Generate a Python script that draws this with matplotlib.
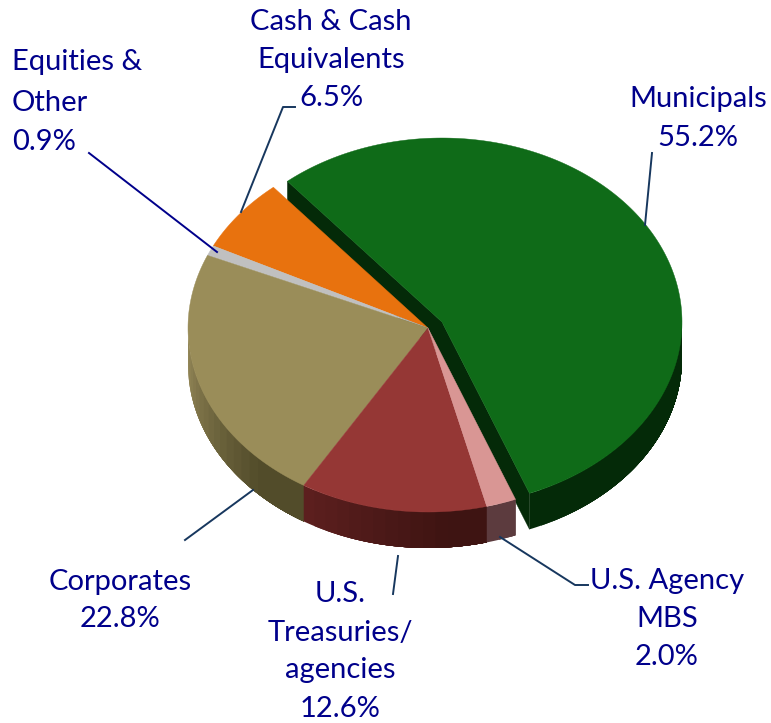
import numpy as np
import matplotlib
matplotlib.use('Agg')
import matplotlib.pyplot as plt
from matplotlib.colors import to_rgb

# slices, counter clockwise from the top left edge of Municipals' neighbour
names = ['Cash & Cash\nEquivalents', 'Equities &\nOther', 'Corporates',
         'U.S.\nTreasuries/\nagencies', 'U.S. Agency\nMBS', 'Municipals']
values = [6.5, 0.9, 22.8, 12.6, 2.0, 55.2]
top_colors = ['#e8720e', '#c0c0c0', '#9a8d59', '#953735', '#d99694', '#0f6b18']
wall_left = ['#e8720e', '#c0c0c0', '#96895a', '#5c1f1e', '#5c3b3e', '#042a08']
wall_right = ['#e8720e', '#c0c0c0', '#524c2a', '#3e1412', '#5c3b3e', '#042a08']

text_color = '#00008b'
line_color = '#17375e'

# pie geometry in pixels
cx, cy = 428, 328
rx, ry = 240, 184
depth = 36
start_angle = 130.1
explode = (14, -6)

plt.rcParams['font.family'] = ['Lato', 'DejaVu Sans']

fig = plt.figure(figsize=(7.71, 7.23), dpi=100)
ax = fig.add_axes([0, 0, 1, 1])
ax.set_xlim(0, 771)
ax.set_ylim(723, 0)
ax.axis('off')


def rim(t, dx=0, dy=0):
    r = np.radians(t)
    return cx + dx + rx * np.cos(r), cy + dy - ry * np.sin(r)


def draw_wall(t0, t1, c0, c1, dx=0, dy=0, zorder=2):
    # side of a slice, only the part turned to the viewer, cut in overlapping strips for the shading
    t0 = max(t0, 180)
    ts = np.arange(t0, t1, 3.0)
    c0, c1 = np.array(to_rgb(c0)), np.array(to_rgb(c1))
    for i, a in enumerate(ts):
        arc = np.linspace(a, t1, 80)
        xs, ys = rim(arc, dx, dy)
        col = c0 + (c1 - c0) * min(1, (a - t0) / (0.75 * (t1 - t0)))
        ax.fill(np.r_[xs, xs[::-1]], np.r_[ys, ys[::-1] + depth],
                color=col, lw=0, zorder=zorder)


def draw_top(t0, t1, color, dx=0, dy=0, zorder=3):
    ts = np.linspace(t0, t1, 200)
    xs, ys = rim(ts, dx, dy)
    ax.fill(np.r_[cx + dx, xs], np.r_[cy + dy, ys], color=color, lw=0.3, zorder=zorder)


# slice angles from the values
edges = start_angle + np.cumsum(np.r_[0, values]) * 3.6

# Municipals first, it sits behind the others and is pulled out
dx, dy = explode
t0, t1 = edges[5], edges[6]
for t in (t1, t0):
    x, y = rim(t, dx, dy)
    ax.fill([cx + dx, x, x, cx + dx], [cy + dy, y, y + depth, cy + dy + depth],
            color=wall_left[5], lw=0.3, zorder=1)
# the arc turned to the viewer runs from the cut round to the right edge
draw_wall(t0, 360, wall_left[5], wall_right[5], dx, dy, zorder=1)
draw_top(t0, t1, top_colors[5], dx, dy, zorder=1.5)

for i in range(5):
    t0, t1 = edges[i], edges[i + 1]
    if t1 > 180:
        draw_wall(t0, t1, wall_left[i], wall_right[i])
for i in range(5):
    draw_top(edges[i], edges[i + 1], top_colors[i])

# leader lines
ax.plot([241, 283, 295], [212, 107, 107], color=line_color, lw=1.4, zorder=4)
ax.plot([89, 217], [153, 252], color='#00008b', lw=1.4, zorder=4)
ax.plot([645, 652], [225, 153], color=line_color, lw=1.4, zorder=4)
ax.plot([185, 253], [540, 490], color=line_color, lw=1.4, zorder=4)
ax.plot([398, 393], [556, 594], color=line_color, lw=1.4, zorder=4)
ax.plot([500, 575, 588], [537, 585, 585], color=line_color, lw=1.4, zorder=4)

# labels, one entry per slice: centre x (or left x), y of each line
label_pos = [(331, [22, 60, 98], 'center'),
             (12, [62, 103, 142], 'left'),
             (120, [582, 619], 'center'),
             (340, [594, 633, 670, 709], 'center'),
             (667, [581, 619, 657], 'center'),
             (698, [99, 138], 'center')]

for name, val, (x, ys, ha) in zip(names, values, label_pos):
    lines = name.split('\n') + [f'{val:.1f}%']
    for line, y in zip(lines, ys):
        ax.text(x, y, line, color=text_color, fontsize=21, ha=ha, va='center', zorder=5)

fig.savefig('out.png', dpi=100)
